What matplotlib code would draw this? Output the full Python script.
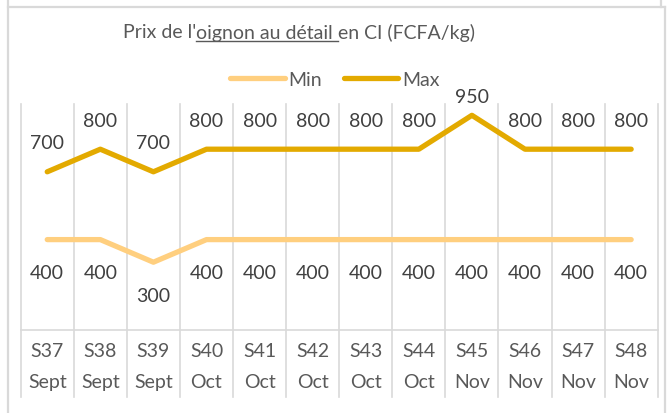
import matplotlib
matplotlib.use('Agg')
import numpy as np
import matplotlib.pyplot as plt
from matplotlib.lines import Line2D

plt.rcParams['font.family'] = ['Lato', 'DejaVu Sans']

weeks = ['S37', 'S38', 'S39', 'S40', 'S41', 'S42', 'S43', 'S44', 'S45', 'S46', 'S47', 'S48']
months = ['Sept', 'Sept', 'Sept', 'Oct', 'Oct', 'Oct', 'Oct', 'Oct', 'Nov', 'Nov', 'Nov', 'Nov']
prix_min = [400, 400, 300, 400, 400, 400, 400, 400, 400, 400, 400, 400]
prix_max = [700, 800, 700, 800, 800, 800, 800, 800, 950, 800, 800, 800]

c_min = '#FFCF7F'
c_max = '#E3AA00'
grid_c = '#D9D9D9'
txt_c = '#595959'
lab_c = '#404040'
fs = 14

W, H = 667, 414
fig = plt.figure(figsize=(W / 100, H / 100), dpi=100)


def fx(px):
    return px / W


def fy(py):
    return 1 - py / H


# plot area
ax = fig.add_axes([fx(20.7), fy(331), fx(657.7) - fx(20.7), fy(105) - fy(331)])
x = np.arange(len(weeks))
ax.plot(x, prix_min, color=c_min, lw=3.8, solid_capstyle='round', solid_joinstyle='round', zorder=3)
ax.plot(x, prix_max, color=c_max, lw=3.8, solid_capstyle='round', solid_joinstyle='round', zorder=3)
ax.set_xlim(-0.5, len(weeks) - 0.5)
ax.set_ylim(0, 1000)
ax.set_xticks([])
ax.set_yticks([])
for s in ['top', 'left', 'right']:
    ax.spines[s].set_visible(False)
ax.spines['bottom'].set_color(grid_c)
ax.spines['bottom'].set_linewidth(1.2)

# vertical separators, running down through the category labels
for b in np.arange(-0.5, len(weeks)):
    ax.plot([b, b], [-67 / 226, 1], transform=ax.get_xaxis_transform(), clip_on=False,
            color=grid_c, lw=1.2, zorder=0)

# data labels
max_off = [29] * len(weeks)
max_off[prix_max.index(max(prix_max))] = 19
for i in x:
    ax.annotate(str(prix_max[i]), (i, prix_max[i]), xytext=(0, max_off[i]), textcoords='offset pixels',
                ha='center', va='center', fontsize=fs, color=lab_c)
    ax.annotate(str(prix_min[i]), (i, prix_min[i]), xytext=(0, -33), textcoords='offset pixels',
                ha='center', va='center', fontsize=fs, color=lab_c)

# two-level category axis
for i in x:
    ax.annotate(weeks[i], (i, 0), xycoords=ax.get_xaxis_transform(), xytext=(0, -21),
                textcoords='offset pixels', ha='center', va='center', fontsize=fs, color=txt_c)
    ax.annotate(months[i], (i, 0), xycoords=ax.get_xaxis_transform(), xytext=(0, -52),
                textcoords='offset pixels', ha='center', va='center', fontsize=fs, color=txt_c)

# title with underlined part
parts = ["Prix de l'", "oignon au détail ", "en CI (FCFA/kg)"]
renderer = fig.canvas.get_renderer()
texts = [fig.text(0, fy(33), p, fontsize=fs, color=txt_c, ha='left', va='center') for p in parts]
widths = [t.get_window_extent(renderer).width for t in texts]
x0 = 299 - sum(widths) / 2
for t, w in zip(texts, widths):
    t.set_x(fx(x0))
    if t is texts[1]:
        fig.add_artist(Line2D([fx(x0), fx(x0 + w)], [fy(42), fy(42)], color=txt_c, lw=1.0))
    x0 += w

# legend
handles = [Line2D([], [], color=c_min, lw=3.8, solid_capstyle='round'),
           Line2D([], [], color=c_max, lw=3.8, solid_capstyle='round')]
fig.legend(handles, ['Min', 'Max'], loc='center', bbox_to_anchor=(fx(335), fy(80)), ncol=2,
           frameon=False, fontsize=fs, handlelength=2.8, handletextpad=0.2, columnspacing=1.1,
           labelcolor=txt_c)

# chart frame
for xs, ys in [([8, 8], [0, H]), ([8, 665], [8, 8]), ([665, 665], [8, H]), ([661, 661], [0, 8])]:
    fig.add_artist(Line2D([fx(v) for v in xs], [fy(v) for v in ys], color=grid_c, lw=1.6))

fig.savefig('out.png', dpi=100)
